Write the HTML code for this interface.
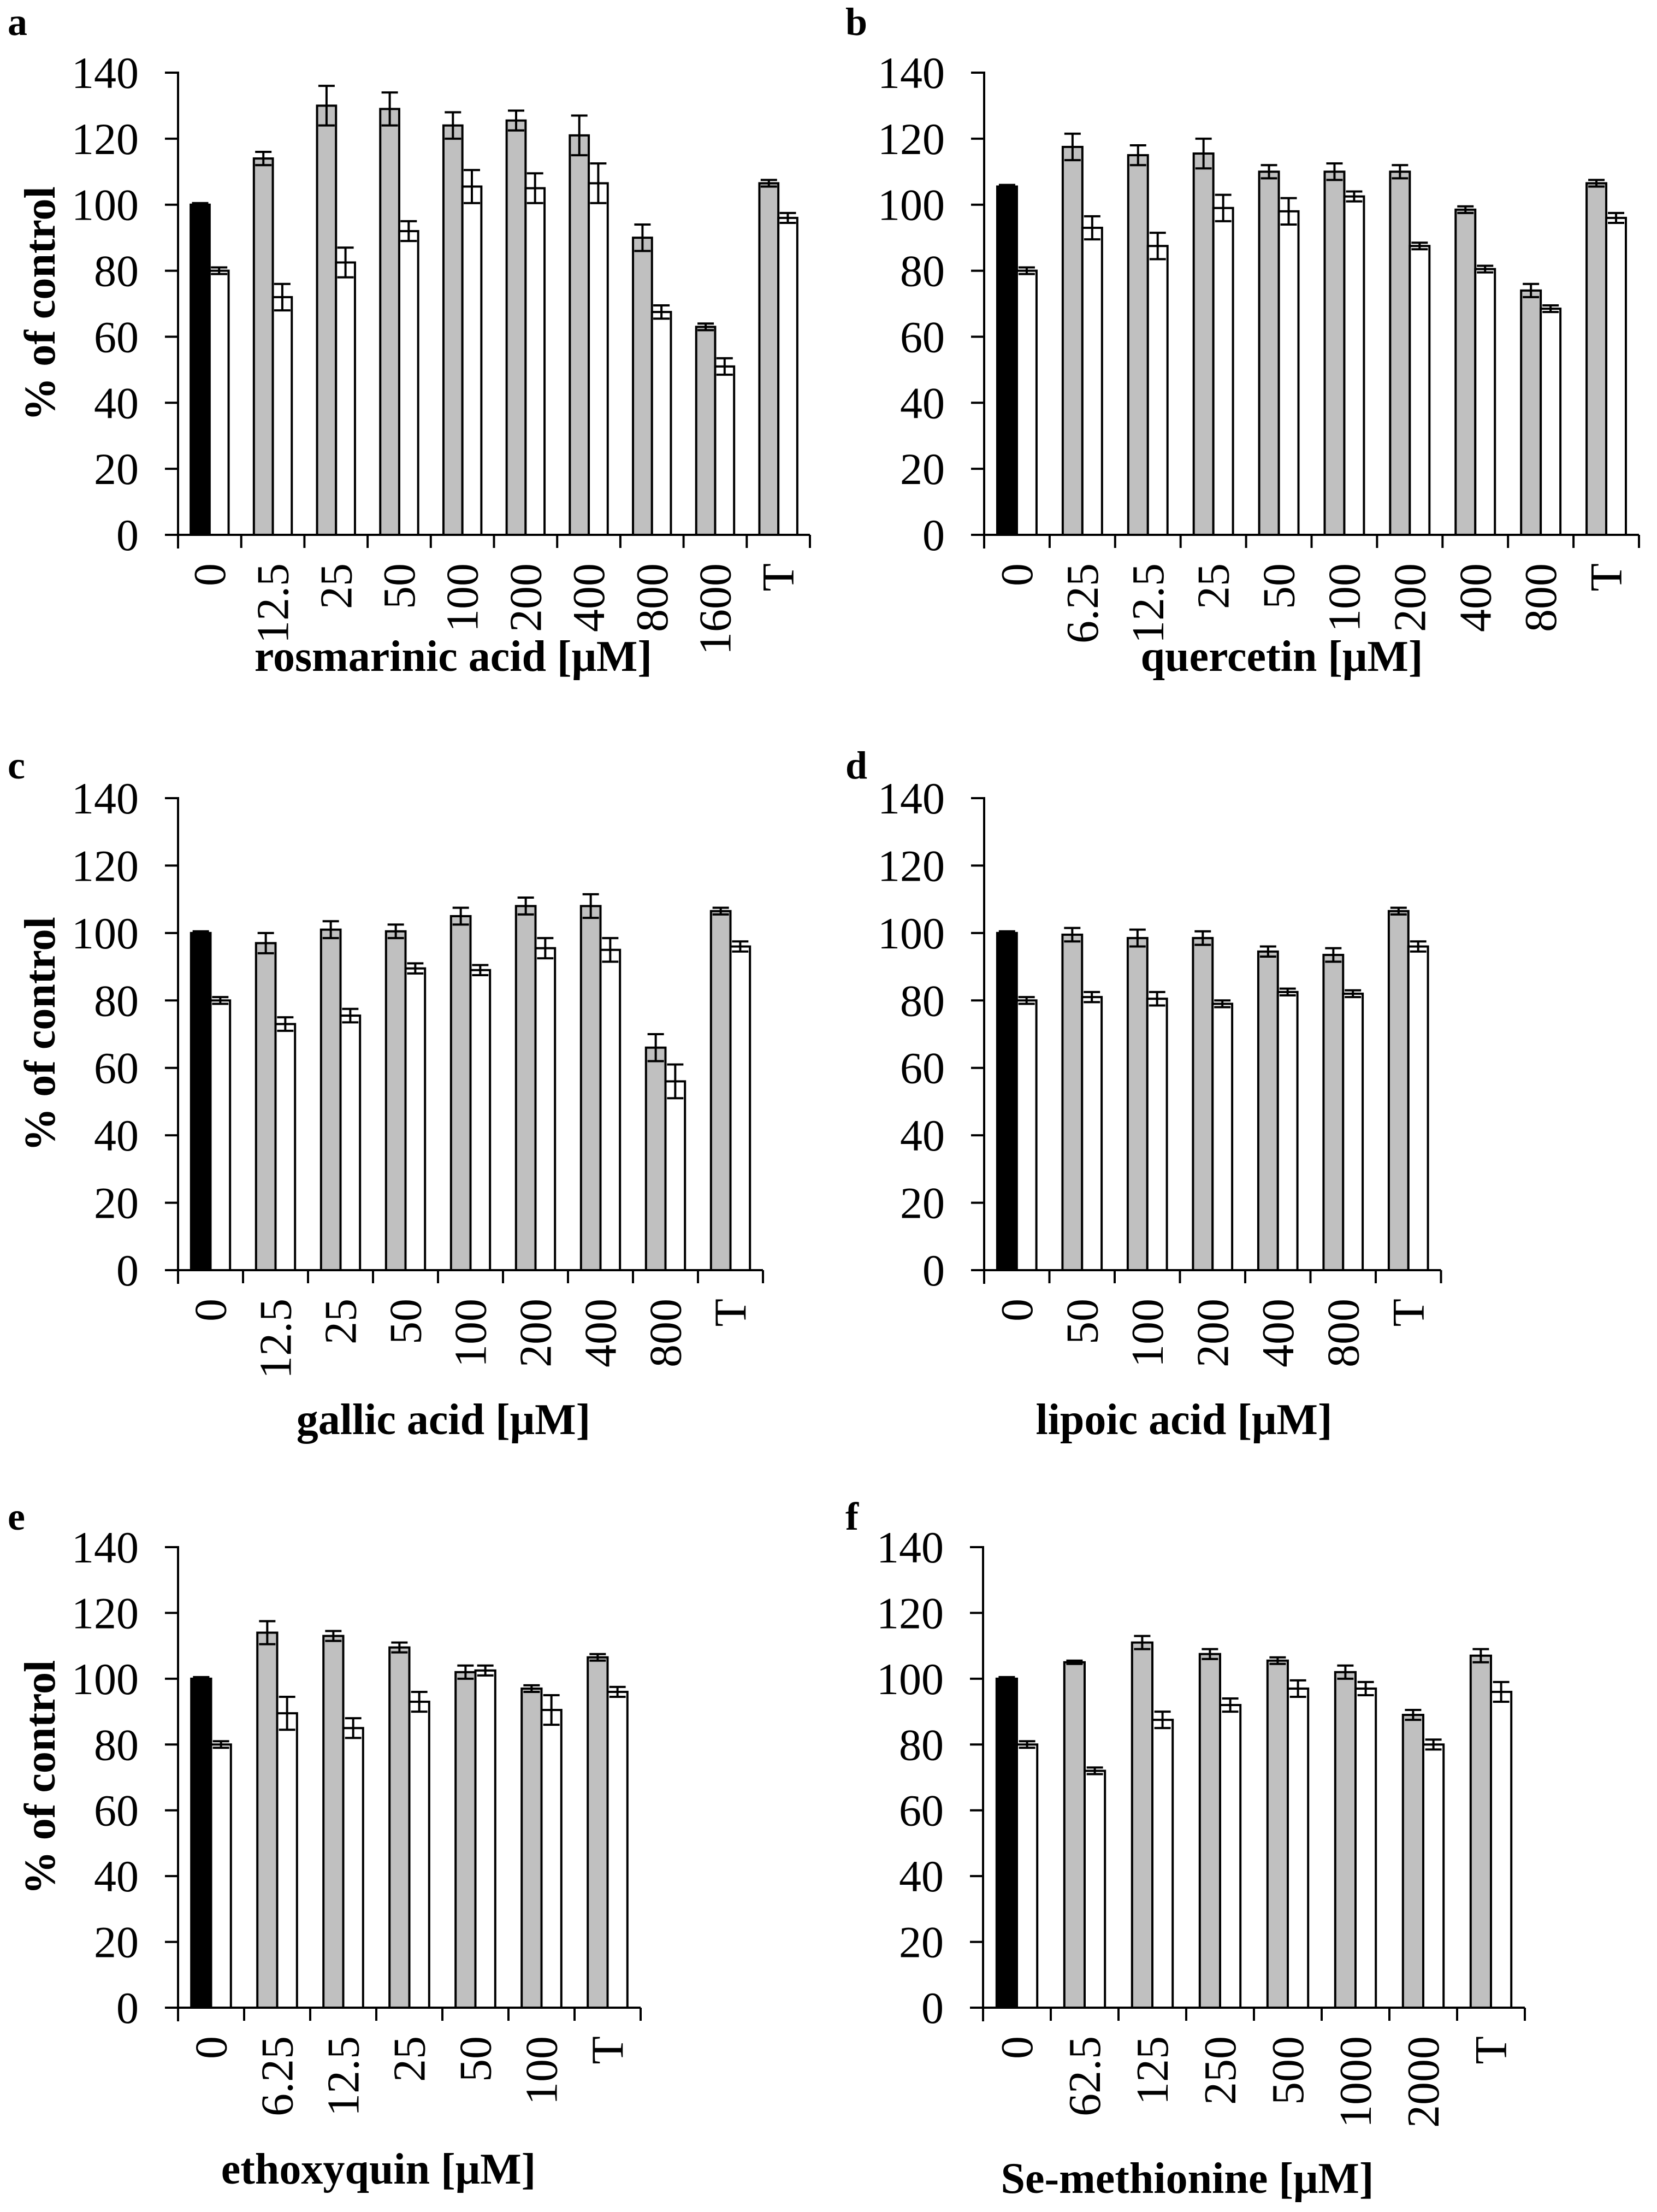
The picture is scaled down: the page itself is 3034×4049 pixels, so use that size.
<!DOCTYPE html>
<html><head><meta charset="utf-8"><style>
html,body{margin:0;padding:0;background:#fff;}
svg{display:block;}
text{font-family:"Liberation Serif","DejaVu Serif",serif;fill:#000;}
</style></head><body>
<svg id="fig" width="3034" height="4049" viewBox="0 0 3034 4049" xmlns="http://www.w3.org/2000/svg"></svg>
<script>
const catsA=["0","12.5","25","50","100","200","400","800","1600","T"];
const grayA=[null,114,130,129,124,125.5,121,90,63,106.5];
const grayErrA=[0,2,6,5,4,3,6,4,1,1];
const whiteA=[80,72,82.5,92,105.5,105,106.5,67.5,51,96];
const whiteErrA=[1,4,4.5,3,5,4.5,6,2,2.5,1.5];
const blackA=100;

const catsB=["0","6.25","12.5","25","50","100","200","400","800","T"];
const grayB=[null,117.5,115,115.5,110,110,110,98.5,74,106.5];
const grayErrB=[0,4,3,4.5,2,2.5,2,1,2,1];
const whiteB=[80,93,87.5,99,98,102.5,87.5,80.5,68.5,96];
const whiteErrB=[1,3.5,4,4,4,1.5,1,1,1,1.5];
const blackB=105.5;

const catsC=["0","12.5","25","50","100","200","400","800","T"];
const grayC=[null,97,101,100.5,105,108,108,66,106.5];
const grayErrC=[0,3,2.5,2,2.5,2.5,3.5,4,1];
const whiteC=[80,73,75.5,89.5,89,95.5,95,56,96];
const whiteErrC=[1,2,2,1.5,1.5,3,3.5,5,1.5];
const blackC=100;

const catsD=["0","50","100","200","400","800","T"];
const grayD=[null,99.5,98.5,98.5,94.5,93.5,106.5];
const grayErrD=[0,2,2.5,2,1.5,2,1];
const whiteD=[80,81,80.5,79,82.5,82,96];
const whiteErrD=[1,1.5,2,1,1,1,1.5];
const blackD=100;

const catsE=["0","6.25","12.5","25","50","100","T"];
const grayE=[null,114,113,109.5,102,97,106.5];
const grayErrE=[0,3.5,1.5,1.5,2,1,1];
const whiteE=[80,89.5,85,93,102.5,90.5,96];
const whiteErrE=[1,5,3,3,1.5,4.5,1.5];
const blackE=100;

const catsF=["0","62.5","125","250","500","1000","2000","T"];
const grayF=[null,105,111,107.5,105.5,102,89,107];
const grayErrF=[0,0.5,2,1.5,1,2,1.5,2];
const whiteF=[80,72,87.5,92,97,97,80,96];
const whiteErrF=[1,1,2.5,2,2.5,2,1.5,3];
const blackF=100;

const yTicks=[0,20,40,60,80,100,120,140];

const panels=[
 {id:"a",ax:326,yTop:133,y0:979,cw:115.7,cats:catsA,gray:grayA,ge:grayErrA,white:whiteA,we:whiteErrA,black:blackA,title:"rosmarinic acid [μM]",tx:830,ty:1228,lx:14,ly:64,ylab:true},
 {id:"b",ax:1802,yTop:133,y0:979,cw:119.9,cats:catsB,gray:grayB,ge:grayErrB,white:whiteB,we:whiteErrB,black:blackB,title:"quercetin [μM]",tx:2347,ty:1228,lx:1548,ly:64,ylab:false},
 {id:"c",ax:326,yTop:1461,y0:2325,cw:119,cats:catsC,gray:grayC,ge:grayErrC,white:whiteC,we:whiteErrC,black:blackC,title:"gallic acid [μM]",tx:812,ty:2625,lx:14,ly:1425,ylab:true},
 {id:"d",ax:1802,yTop:1461,y0:2325,cw:119.5,cats:catsD,gray:grayD,ge:grayErrD,white:whiteD,we:whiteErrD,black:blackD,title:"lipoic acid [μM]",tx:2168,ty:2625,lx:1548,ly:1425,ylab:false},
 {id:"e",ax:326,yTop:2832,y0:3675,cw:121,cats:catsE,gray:grayE,ge:grayErrE,white:whiteE,we:whiteErrE,black:blackE,title:"ethoxyquin [μM]",tx:693,ty:3997,lx:14,ly:2800,ylab:true},
 {id:"f",ax:1800,yTop:2832,y0:3675,cw:124,cats:catsF,gray:grayF,ge:grayErrF,white:whiteF,we:whiteErrF,black:blackF,title:"Se-methionine [μM]",tx:2174,ty:4014,lx:1548,ly:2800,ylab:false}
];

const NS="http://www.w3.org/2000/svg";
const svg=document.getElementById("fig");
function mk(tag,attrs,parent){const e=document.createElementNS(NS,tag);for(const k in attrs)e.setAttribute(k,attrs[k]);(parent||svg).appendChild(e);return e;}

panels.forEach(p=>{
  const g=mk("g",{});
  
  
  const yS=v=>p.y0-(v/140)*(p.y0-p.yTop);
  const xC=i=>p.ax+p.cw*i;
  const n=p.cats.length;
  const bw=p.cw*0.3, off=p.cw*0.2;
  function errbar(x,v,e,name){
    if(!e) return;
    const eg=mk("g",{stroke:"#000","stroke-width":4},g);
    
    
    mk("line",{x1:x,x2:x,y1:yS(v-e),y2:yS(v+e)},eg);
    mk("line",{x1:x-15,x2:x+15,y1:yS(v+e),y2:yS(v+e)},eg);
    mk("line",{x1:x-15,x2:x+15,y1:yS(v-e),y2:yS(v-e)},eg);
  }
  for(let i=0;i<n;i++){
    const x0=xC(i)+off;
    const lv = i===0 ? p.black : p.gray[i];
    const r1=mk("rect",{x:x0,y:yS(lv),width:bw,height:p.y0-yS(lv),fill:i===0?"#000":"#c0c0c0",stroke:"#000","stroke-width":4},g);
    
    
    if(i===0) errbar(x0+bw/2,p.black,0.5,'control-error');
    else errbar(x0+bw/2,p.gray[i],p.ge[i],'gray-error-'+p.cats[i]);
    const wv=p.white[i];
    const r2=mk("rect",{x:x0+bw,y:yS(wv),width:bw,height:p.y0-yS(wv),fill:"#fff",stroke:"#000","stroke-width":4},g);
    
    
    errbar(x0+bw*1.5,wv,p.we[i],'white-error-'+p.cats[i]);
  }
  const ya=mk("line",{x1:p.ax,x2:p.ax,y1:p.yTop-2,y2:p.y0+25,stroke:"#000","stroke-width":4},g);
  
  
  const xa=mk("line",{x1:p.ax-24,x2:xC(n),y1:p.y0,y2:p.y0,stroke:"#000","stroke-width":4},g);
  
  
  yTicks.forEach(t=>{
    mk("line",{x1:p.ax-24,x2:p.ax,y1:yS(t),y2:yS(t),stroke:"#000","stroke-width":4},g);
    const tl=mk("text",{x:p.ax-72,y:yS(t)+28,"text-anchor":"end","font-size":82},g);
    tl.textContent=t;
    
    
  });
  for(let i=1;i<=n;i++) mk("line",{x1:xC(i),x2:xC(i),y1:p.y0,y2:p.y0+24,stroke:"#000","stroke-width":4},g);
  p.cats.forEach((c,i)=>{
    const cx=xC(i)+p.cw/2+28, cy=p.y0+52;
    const t=mk("text",{x:cx,y:cy,"text-anchor":"end","font-size":84,transform:`rotate(-90 ${cx} ${cy})`},g);
    t.textContent=c;
    
    
  });
  const xt=mk("text",{x:p.tx,y:p.ty,"text-anchor":"middle","font-size":80,"font-weight":"bold"},g);
  xt.textContent=p.title;
  
  
  const pl=mk("text",{x:p.lx,y:p.ly,"font-size":72,"font-weight":"bold"},g);
  pl.textContent=p.id;
  
  
  if(p.ylab){
    const cy=(p.yTop+p.y0)/2, cx=100;
    const yt=mk("text",{x:cx,y:cy,"text-anchor":"middle","font-size":80,"font-weight":"bold",transform:`rotate(-90 ${cx} ${cy})`},g);
    yt.textContent="% of control";
    
    
  }
});
</script>
</body></html>
